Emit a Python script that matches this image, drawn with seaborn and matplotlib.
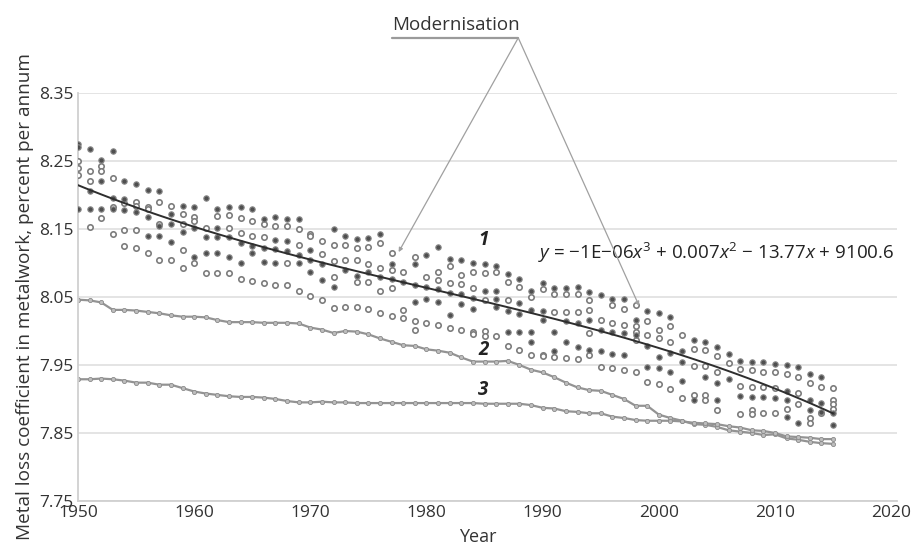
import numpy as np
import pandas as pd
import matplotlib.pyplot as plt
import seaborn as sns

years = list(range(1950, 2016))

# series 1: individual observations, dark (filled) and light (hollow) markers
filled = [
    [8.275, 8.270, 8.180], [8.267, 8.206, 8.179], [8.252, 8.220, 8.179], [8.265, 8.195, 8.179],
    [8.220, 8.194, 8.178], [8.216, 8.175], [8.207, 8.168, 8.139], [8.206, 8.154, 8.139],
    [8.172, 8.157, 8.131], [8.184, 8.145], [8.182, 8.152, 8.109], [8.195, 8.138, 8.114],
    [8.179, 8.152, 8.138, 8.114], [8.183, 8.138, 8.109], [8.182, 8.129, 8.100], [8.179, 8.125, 8.114],
    [8.164, 8.122, 8.102], [8.167, 8.134, 8.120, 8.100], [8.165, 8.133, 8.118], [8.165, 8.111, 8.100],
    [8.119, 8.105, 8.086], [8.099, 8.075], [8.150, 8.065], [8.139, 8.089],
    [8.135, 8.081], [8.136, 8.086], [8.143, 8.079], [8.099, 8.076],
    [8.072], [8.099, 8.067, 8.043], [8.112, 8.065, 8.047], [8.124, 8.061, 8.042],
    [8.106, 8.056, 8.023], [8.104, 8.055, 8.039], [8.100, 8.048, 8.033], [8.098, 8.059],
    [8.096, 8.059, 8.047, 8.035], [8.084, 8.030, 7.999], [8.076, 8.041, 8.025, 7.999], [8.059, 8.031, 7.999, 7.984],
    [8.070, 8.030, 8.016], [8.063, 7.999, 7.970], [8.063, 8.014, 7.984], [8.064, 8.012, 7.977],
    [8.058, 8.016, 7.972], [8.053, 8.001, 7.970], [8.047, 7.999, 7.966], [8.047, 7.997, 7.965],
    [8.016, 7.994], [8.029, 7.978, 7.947], [8.027, 7.962, 7.945], [8.020, 7.968, 7.939],
    [7.970, 7.954, 7.926], [7.987, 7.899], [7.984, 7.933], [7.976, 7.924, 7.898],
    [7.966, 7.929], [7.956, 7.904], [7.954, 7.903], [7.954, 7.903],
    [7.952, 7.902], [7.950, 7.912, 7.898, 7.874], [7.947, 7.864], [7.936, 7.899, 7.884],
    [7.933, 7.894, 7.881], [7.879, 7.862],
]
hollow = [
    [8.250, 8.240, 8.229], [8.235, 8.221, 8.153], [8.242, 8.235, 8.166], [8.225, 8.183, 8.142],
    [8.188, 8.149, 8.125], [8.190, 8.184, 8.149, 8.122], [8.183, 8.179, 8.114], [8.190, 8.158, 8.105],
    [8.184, 8.105], [8.172, 8.158, 8.119, 8.093], [8.168, 8.161, 8.100], [8.152, 8.085],
    [8.169, 8.085], [8.171, 8.152, 8.085], [8.166, 8.144, 8.076], [8.162, 8.140, 8.074],
    [8.158, 8.138, 8.070], [8.154, 8.068], [8.154, 8.100, 8.067], [8.150, 8.126, 8.059],
    [8.142, 8.139, 8.052], [8.132, 8.113, 8.046], [8.126, 8.103, 8.080, 8.034], [8.127, 8.104, 8.035],
    [8.122, 8.104, 8.072, 8.035], [8.123, 8.099, 8.072, 8.032], [8.129, 8.093, 8.059, 8.026], [8.114, 8.090, 8.063, 8.022],
    [8.086, 8.031, 8.019], [8.109, 8.014, 8.002], [8.079, 8.011], [8.086, 8.075, 8.009],
    [8.096, 8.071, 8.004], [8.082, 8.069, 8.001], [8.087, 8.063, 7.999, 7.995], [8.085, 8.046, 8.000, 7.993],
    [8.086, 7.992], [8.072, 8.046, 7.978], [8.064, 7.972], [8.050, 7.965],
    [8.061, 7.965, 7.963], [8.054, 8.028, 7.962], [8.054, 8.028, 7.960], [8.054, 8.028, 7.959],
    [8.046, 8.031, 7.997, 7.965], [8.016, 7.947], [8.038, 8.012, 7.945], [8.033, 8.009, 7.943],
    [8.038, 8.007, 7.999, 7.987, 7.939], [8.015, 7.994, 7.925], [8.002, 7.989, 7.922], [8.007, 7.984, 7.915],
    [7.994, 7.901], [7.973, 7.949, 7.906], [7.972, 7.949, 7.906, 7.899], [7.963, 7.939, 7.884],
    [7.953], [7.944, 7.919, 7.878], [7.943, 7.918, 7.884, 7.878], [7.940, 7.917, 7.880],
    [7.939, 7.916, 7.879], [7.937, 7.886], [7.933, 7.909, 7.893], [7.923, 7.872, 7.864],
    [7.918, 7.879], [7.916, 7.899, 7.892, 7.886],
]

line2 = [
    8.046, 8.045, 8.042, 8.031, 8.031, 8.030, 8.028, 8.026, 8.023, 8.021,
    8.021, 8.020, 8.016, 8.013, 8.013, 8.013, 8.012, 8.012, 8.012, 8.011,
    8.005, 8.002, 7.997, 8.000, 7.999, 7.995, 7.989, 7.984, 7.979, 7.978,
    7.973, 7.971, 7.968, 7.961, 7.955, 7.955, 7.955, 7.956, 7.950, 7.943,
    7.939, 7.932, 7.924, 7.917, 7.913, 7.912, 7.906, 7.900, 7.890, 7.890,
    7.877, 7.872, 7.868, 7.863, 7.862, 7.859, 7.854, 7.852, 7.850, 7.847,
    7.848, 7.842, 7.840, 7.837, 7.835, 7.834,
]
line3 = [
    7.929, 7.929, 7.930, 7.929, 7.927, 7.924, 7.924, 7.921, 7.921, 7.916,
    7.911, 7.908, 7.906, 7.904, 7.903, 7.903, 7.902, 7.900, 7.897, 7.895,
    7.895, 7.896, 7.895, 7.895, 7.894, 7.894, 7.894, 7.894, 7.894, 7.894,
    7.894, 7.894, 7.894, 7.894, 7.894, 7.893, 7.893, 7.893, 7.893, 7.891,
    7.887, 7.886, 7.882, 7.881, 7.879, 7.879, 7.874, 7.872, 7.869, 7.868,
    7.868, 7.868, 7.867, 7.865, 7.864, 7.863, 7.860, 7.858, 7.854, 7.853,
    7.850, 7.845, 7.844, 7.843, 7.841, 7.841,
]

y_ticks = [7.75, 7.85, 7.95, 8.05, 8.15, 8.25, 8.35]
x_ticks = [1950, 1960, 1970, 1980, 1990, 2000, 2010, 2020]


def to_long(groups):
    rows = []
    for yr, vals in zip(years, groups):
        for v in vals:
            rows.append({"year": yr, "value": v})
    return pd.DataFrame(rows)


df_filled = to_long(filled)
df_hollow = to_long(hollow)
df_all = pd.concat([df_filled, df_hollow], ignore_index=True)
df_lines = pd.DataFrame({"year": years, "line2": line2, "line3": line3})

sns.set_theme(style="white")
plt.rcParams['font.family'] = ['Open Sans', 'DejaVu Sans']
plt.rcParams['mathtext.fontset'] = 'custom'
plt.rcParams['mathtext.rm'] = 'Open Sans'
plt.rcParams['mathtext.it'] = 'Open Sans:italic'

fig = plt.figure(figsize=(9.11, 5.47), dpi=100)
ax = fig.add_axes([0.0856, 0.0841, 0.899, 0.746])

# lines 2 and 3
for col in ["line2", "line3"]:
    sns.lineplot(data=df_lines, x="year", y=col, ax=ax, color="#939393", lw=1.6,
                 marker="o", markersize=3, markerfacecolor="#bdbdbd",
                 markeredgecolor="#8a8a8a", markeredgewidth=0.6)

# scatter of series 1
sns.scatterplot(data=df_hollow, x="year", y="value", ax=ax, s=15,
                facecolor="white", edgecolor="#7d7d7d", linewidth=1.2, zorder=3)
sns.scatterplot(data=df_filled, x="year", y="value", ax=ax, s=15,
                color="#4f4f4f", edgecolor="#8a8a8a", linewidth=0.8, zorder=3)

# cubic trend through series 1
sns.regplot(data=df_all, x="year", y="value", ax=ax, order=3, scatter=False,
            ci=None, truncate=True, line_kws={"color": "#2e2e2e", "lw": 1.4, "zorder": 4})

ax.set_xlim(1950, 2020.5)
ax.set_ylim(7.75, 8.35)
ax.set_xticks(x_ticks)
ax.set_yticks(y_ticks)
ax.set_yticklabels([f"{t:.2f}" for t in y_ticks])
ax.tick_params(length=0, labelsize=12.5, colors="#333333", pad=3)
ax.yaxis.grid(True, color="#e2e2e2", lw=1.3)
ax.set_axisbelow(True)
sns.despine(ax=ax)
for sp in ["left", "bottom"]:
    ax.spines[sp].set_color("#d0d0d0")
    ax.spines[sp].set_linewidth(1.3)

ax.set_xlabel("Year", fontsize=13, color="#333333")
ax.set_ylabel("Metal loss coefficient in metalwork, percent per annum",
              fontsize=13.7, color="#333333")
ax.xaxis.set_label_coords(0.488, -0.066)
ax.yaxis.set_label_coords(-0.054, 0.5)

# series numbers
for lbl, yv in [("1", 8.134), ("2", 7.972), ("3", 7.913)]:
    ax.text(1984.9, yv, lbl, fontsize=13.5, fontweight="bold", style="italic",
            ha="center", va="center", color="#222222")

ax.text(1989.6, 8.115, r"$y$ = −1E−06$x^3$ + 0.007$x^2$ − 13.77$x$ + 9100.6",
        fontsize=13.5, va="center", ha="left", color="#222222")

# modernisation callout
apex = (1987.9, 8.431)
for tip in [(1977.6, 8.116), (1998.3, 8.037)]:
    ax.annotate("", xy=tip, xytext=apex, annotation_clip=False,
                arrowprops=dict(arrowstyle="-|>", color="#a0a0a0", lw=0.9,
                                mutation_scale=6, shrinkA=0, shrinkB=0))
ax.plot([1977.0, 1987.9], [8.431, 8.431], color="#9a9a9a", lw=1.6, clip_on=False)
ax.text(1982.5, 8.437, "Modernisation", fontsize=13.5, ha="center", va="bottom",
        color="#333333")

fig.savefig("out.png", dpi=100)
